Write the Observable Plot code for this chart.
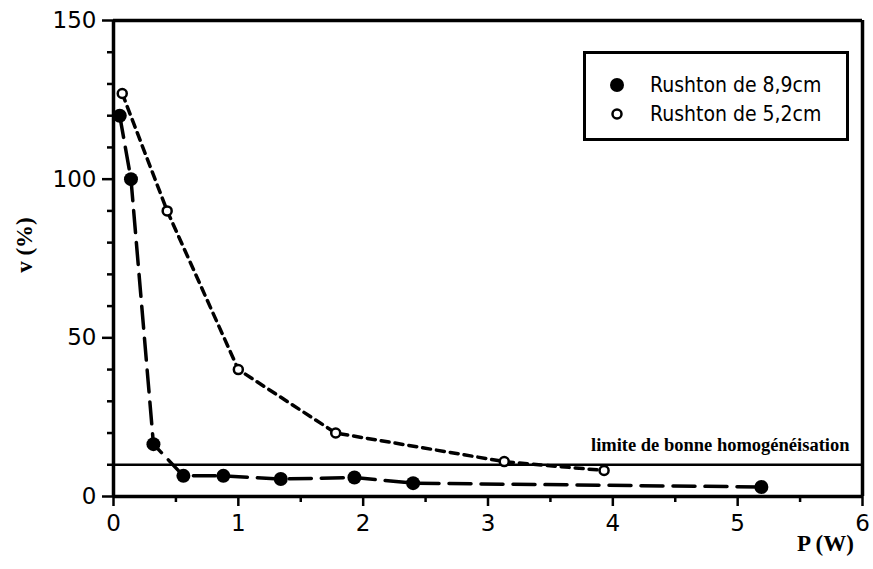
<!DOCTYPE html>
<html>
<head>
<meta charset="utf-8">
<script src="https://cdn.jsdelivr.net/npm/d3@7"></script>
<script src="https://cdn.jsdelivr.net/npm/@observablehq/plot@0.6"></script>
<style>
  body { margin: 0; background: #fff; }
  #wrap { position: relative; width: 873px; height: 569px; }
  #legend {
    position: absolute; left: 583px; top: 51px; width: 266px; height: 90px;
    border: 3px solid #000; background: #fff; box-sizing: border-box;
    font-family: "DejaVu Sans Condensed", "DejaVu Sans", sans-serif; font-size: 21px;
  }
  .row { position: absolute; left: 0; height: 26px; display: flex; align-items: center; }
  .row svg { margin-left: 22px; margin-right: 24px; }
  #xt { position:absolute; left: 797px; top: 531px; font-family: "Liberation Serif", serif; font-weight: bold; font-size: 23px; }
  #yt { position:absolute; left: 25px; top: 245px; transform: translate(-50%,-50%) rotate(-90deg);
        font-family: "Liberation Serif", serif; font-weight: bold; font-size: 23px; white-space: nowrap; }
</style>
</head>
<body>
<div id="wrap">
  <div id="chart"></div>
  <div id="legend">
    <div class="row" style="top:18px"><svg width="18" height="18"><circle cx="9" cy="9" r="7" fill="#000"/></svg><span>Rushton de 8,9cm</span></div>
    <div class="row" style="top:47px"><svg width="18" height="18"><circle cx="9" cy="9" r="4.5" fill="#fff" stroke="#000" stroke-width="2.5"/></svg><span>Rushton de 5,2cm</span></div>
  </div>
  <div id="xt">P (W)</div>
  <div id="yt">v (%)</div>
</div>
<script>
// Rushton 8,9 cm (filled)
const p89 = [0.05, 0.14, 0.32, 0.56, 0.88, 1.34, 1.93, 2.40, 5.19];
const v89 = [120, 100, 16.5, 6.5, 6.5, 5.5, 6.0, 4.2, 3.0];
// Rushton 5,2 cm (open)
const p52 = [0.07, 0.43, 1.0, 1.78, 3.13, 3.93];
const v52 = [127, 90, 40, 20, 11, 8.2];
const limit = 10;
const xTicks = [0, 1, 2, 3, 4, 5, 6];
const yTicks = [0, 50, 100, 150];
const xMinor = [0.5, 1.5, 2.5, 3.5, 4.5, 5.5];
const yMinor = [10, 20, 30, 40, 60, 70, 80, 90, 110, 120, 130, 140];
const limitLabel = "limite de bonne homogénéisation";

const s89 = p89.map((p, i) => ({p, v: v89[i]}));
const s52 = p52.map((p, i) => ({p, v: v52[i]}));

const chart = Plot.plot({
  width: 873,
  height: 569,
  marginLeft: 113,
  marginRight: 11,
  marginTop: 20,
  marginBottom: 73,
  style: { fontFamily: "DejaVu Sans, sans-serif", fontSize: "23px", color: "#000", background: "#fff", overflow: "visible" },
  x: { domain: [0, 6] },
  y: { domain: [0, 150] },
  marks: [
    Plot.axisX(xMinor, { tickSize: 6, strokeWidth: 2.5, text: null, label: null }),
    Plot.axisX(xTicks, { tickSize: 10, strokeWidth: 2.5, tickPadding: 8, fontSize: 23, label: null, tickFormat: d3.format("d") }),
    Plot.axisY(yMinor, { tickSize: 6, strokeWidth: 2.5, text: null, label: null }),
    Plot.axisY(yTicks, { tickSize: 11, strokeWidth: 2.5, tickPadding: 6, fontSize: 23, label: null, tickFormat: d3.format("d") }),
    Plot.ruleX([0, 6], { strokeWidth: 3.5 }),
    Plot.ruleY([0, 150], { strokeWidth: 3.5 }),
    Plot.ruleY([limit], { strokeWidth: 2.5 }),
    Plot.text([limitLabel], { x: 6, y: limit, dx: -13, dy: -20, textAnchor: "end", fontFamily: "Liberation Serif, serif", fontSize: 18.5, fontWeight: "bold" }),
    Plot.line(s52, { x: "p", y: "v", strokeWidth: 3.5, strokeDasharray: "8,6" }),
    Plot.line(s89, { x: "p", y: "v", strokeWidth: 3.5, strokeDasharray: "22,10" }),
    Plot.dot(s89, { x: "p", y: "v", r: 7, fill: "#000", stroke: "none" }),
    Plot.dot(s52, { x: "p", y: "v", r: 4.5, fill: "#fff", stroke: "#000", strokeWidth: 2.5 })
  ]
});
document.getElementById("chart").appendChild(chart);
</script>
</body>
</html>
